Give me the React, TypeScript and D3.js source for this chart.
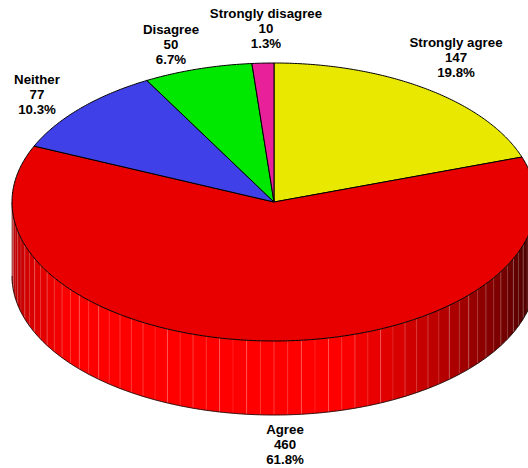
import React from "react";
import * as d3 from "d3";

const categories = ["Strongly agree", "Agree", "Neither", "Disagree", "Strongly disagree"];
const counts = [147, 460, 77, 50, 10];
const percents = ["19.8%", "61.8%", "10.3%", "6.7%", "1.3%"];
const topColors = ["#E8E800", "#E80000", "#4040E8", "#00E800", "#E8209A"];
const labelX = [456, 285, 37, 171, 266];
const labelY = [47, 434, 84, 34, 18];

const W = 528, H = 468, CX = 274, CY = 202, RX = 262, RY = 139, DEPTH = 74;
const FACET = (3 * Math.PI) / 180;

const shadeX = [12, 30, 70, 340, 400, 450, 500, 528];
const shadeC = ["#b80000", "#d80000", "#ff0000", "#ff0000", "#d80000", "#b00000", "#7a0000", "#500000"];
const shade = d3.scaleLinear<string>().domain(shadeX).range(shadeC).clamp(true);

const pt = (a: number, dy = 0): [number, number] => [CX + RX * Math.sin(a), CY - RY * Math.cos(a) + dy];

function arcPath(a0: number, a1: number, dy = 0) {
  const n = Math.max(2, Math.ceil((a1 - a0) / 0.01));
  const pts = d3.range(n + 1).map((i) => pt(a0 + ((a1 - a0) * i) / n, dy));
  return d3.line()(pts) as string;
}

export default function App() {
  const arcs = d3.pie<number>().sort(null)(counts);
  const start = Math.PI / 2, end = (3 * Math.PI) / 2;
  const nF = Math.ceil((end - start) / FACET);
  const facets = d3.range(nF).map((i) => {
    const a0 = start + i * FACET;
    const a1 = Math.min(end, a0 + FACET);
    const [x0, y0] = pt(a0), [x1, y1] = pt(a1);
    const d = `M${x0},${y0}L${x1},${y1}L${x1},${y1 + DEPTH}L${x0},${y0 + DEPTH}Z`;
    return { d, x0, y0, x1, y1, fill: shade((x0 + x1) / 2), i };
  });
  return (
    <svg width={W} height={H} style={{ position: "absolute", left: 0, top: 0, display: "block", background: "#fff" }}>
      {facets.map((f) => (
        <path key={f.i} d={f.d} fill={f.fill} stroke={f.fill} strokeWidth={0.3} />
      ))}
      {facets.map((f) => (
        <line key={f.i} x1={f.x0} x2={f.x0} y1={f.y0} y2={f.y0 + DEPTH} stroke="#fff" strokeOpacity={f.i % 2 ? 0.15 : 0.3} strokeWidth={0.8} />
      ))}
      <path d={arcPath(start, end, DEPTH)} fill="none" stroke="#000" strokeWidth={0.8} />
      <line x1={12} x2={12} y1={CY} y2={CY + DEPTH} stroke="#888" strokeWidth={0.6} />
      {arcs.map((a, i) => {
        const [x0, y0] = pt(a.startAngle);
        const [x1, y1] = pt(a.endAngle);
        return (
          <path key={i} d={`M${CX},${CY}L${x0},${y0}${arcPath(a.startAngle, a.endAngle).replace(/^M/, "L")}L${x1},${y1}Z`} fill={topColors[i]} stroke="#000" strokeWidth={1} strokeLinejoin="round" />
        );
      })}
      <g fontFamily="'Liberation Sans', Arial, sans-serif" fontWeight="bold" fontSize={13.3} textAnchor="middle" fill="#000">
        {categories.map((c, i) => (
          <text key={c} x={labelX[i]} y={labelY[i]}>
            <tspan x={labelX[i]} dy={0}>{c}</tspan>
            <tspan x={labelX[i]} dy={15.2}>{counts[i]}</tspan>
            <tspan x={labelX[i]} dy={15.2}>{percents[i]}</tspan>
          </text>
        ))}
      </g>
    </svg>
  );
}
